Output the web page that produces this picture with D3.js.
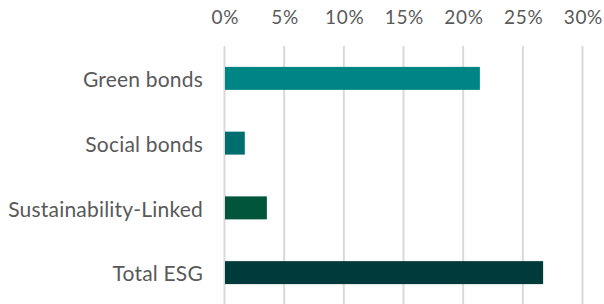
<!DOCTYPE html>
<html>
<head>
<meta charset="utf-8">
<script src="https://cdn.jsdelivr.net/npm/d3@7"></script>
<style>
  body { margin: 0; background: #fff; }
  text { font-family: Lato, sans-serif; fill: #595959; }
</style>
</head>
<body>
<div id="chart-area"></div>
<script>
// ESG share chart
var categories = ["Green bonds", "Social bonds", "Sustainability-Linked", "Total ESG"];
var values = [0.214, 0.017, 0.0355, 0.267];
var barColors = ["#008585", "#006e6e", "#00553a", "#003a3a"];
var tickValues = [0, 0.05, 0.10, 0.15, 0.20, 0.25, 0.30];

var W = 604, H = 304;

var svg = d3.select("#chart-area")
  .append("svg")
  .attr("width", W)
  .attr("height", H);

var x = d3.scaleLinear()
  .domain([0, 0.30])
  .range([224.5, 582.5]);

var y = d3.scaleBand()
  .domain(categories)
  .range([46, 305])
  .paddingInner(0.645)
  .paddingOuter(0.3225);

// gridlines
svg.append("g")
  .attr("class", "grid")
  .selectAll("line")
  .data(tickValues)
  .enter()
  .append("line")
  .attr("x1", d => x(d))
  .attr("x2", d => x(d))
  .attr("y1", 46)
  .attr("y2", H)
  .attr("stroke", "#d9d9d9")
  .attr("stroke-width", 2);

// top axis labels
var xAxis = d3.axisTop(x)
  .tickValues(tickValues)
  .tickSize(0)
  .tickPadding(0)
  .tickFormat(d3.format(".0%"));

var ax = svg.append("g")
  .attr("class", "xAxis")
  .attr("transform", "translate(0,24)")
  .call(xAxis);
ax.select(".domain").remove();
ax.selectAll("text")
  .attr("dy", 0)
  .attr("dx", "0.35px")
  .attr("font-size", "19px")
  .attr("letter-spacing", "0.7px")
  .attr("font-family", "Lato, sans-serif")
  .style("fill", "#595959");

// bars
svg.append("g")
  .attr("class", "bars")
  .selectAll("rect")
  .data(values)
  .enter()
  .append("rect")
  .attr("x", x(0) + 0.5)
  .attr("y", (d, i) => y(categories[i]))
  .attr("width", d => x(d) - x(0) - 0.5)
  .attr("height", y.bandwidth())
  .attr("fill", (d, i) => barColors[i]);

// category labels
var yAxis = d3.axisLeft(y).tickSize(0).tickPadding(0);
var ay = svg.append("g")
  .attr("class", "yAxis")
  .attr("transform", "translate(203,0)")
  .call(yAxis);
ay.select(".domain").remove();
ay.selectAll("text")
  .attr("dy", "0.42em")
  .attr("font-size", "21px")
  .attr("letter-spacing", "0.2px")
  .attr("font-family", "Lato, sans-serif")
  .style("fill", "#595959");
</script>
</body>
</html>
